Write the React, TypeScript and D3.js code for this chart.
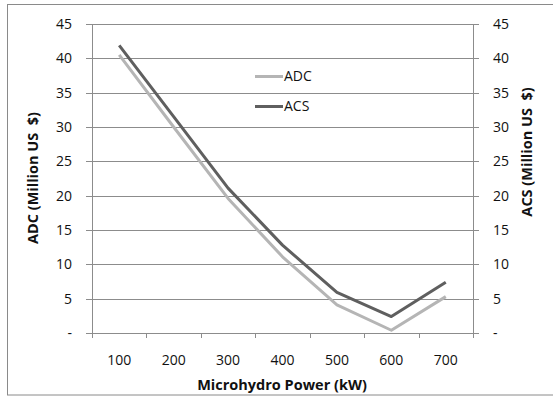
import React from "react";
import * as d3 from "d3";

const categories = ["100", "200", "300", "400", "500", "600", "700"];
const adcValues = [40.5, 30.0, 19.6, 11.1, 4.1, 0.4, 5.3];
const acsValues = [41.9, 31.5, 21.1, 12.8, 5.9, 2.4, 7.4];
const yTicks = [0, 5, 10, 15, 20, 25, 30, 35, 40, 45];

const W = 553;
const H = 396;
const left = 92;
const right = 473;
const top = 24;
const bottom = 333;
const font = "'Open Sans', 'Noto Sans', sans-serif";
const txt = "#111";

export default function App() {
  const x = d3.scaleBand<string>().domain(categories).range([left, right]).padding(0);
  const y = d3.scaleLinear().domain([0, 45]).range([bottom, top]);
  const line = d3
    .line<number>()
    .x((_, i) => (x(categories[i]) as number) + x.bandwidth() / 2)
    .y((d) => y(d));
  const xTickPos = categories.map((c) => x(c) as number).concat([right]);

  return (
    <svg width={W} height={H} style={{ position: "absolute", left: 0, top: 0 }}>
      <rect x={0} y={0} width={W} height={H} fill="#fff" />
      <rect x={7.5} y={4.5} width={W} height={390.5} fill="none" stroke="#8a8a8a" strokeWidth={1} />
      {yTicks.slice(1).map((t) => (
        <line key={"g" + t} x1={left} x2={right} y1={Math.round(y(t)) + 0.5} y2={Math.round(y(t)) + 0.5} stroke="#8c8c8c" strokeWidth={1} />
      ))}
      <line x1={left + 0.5} x2={left + 0.5} y1={top} y2={bottom + 5} stroke="#8c8c8c" />
      <line x1={right + 0.5} x2={right + 0.5} y1={top} y2={bottom + 5} stroke="#8c8c8c" />
      <line x1={left} x2={right} y1={bottom + 0.5} y2={bottom + 0.5} stroke="#8c8c8c" />
      {yTicks.map((t) => (
        <g key={"t" + t}>
          <line x1={left - 6} x2={left} y1={Math.round(y(t)) + 0.5} y2={Math.round(y(t)) + 0.5} stroke="#8c8c8c" />
          <line x1={right} x2={right + 6} y1={Math.round(y(t)) + 0.5} y2={Math.round(y(t)) + 0.5} stroke="#8c8c8c" />
          <text x={72} y={y(t)} dy="0.35em" textAnchor="end" fontFamily={font} fontSize={14} fill={txt}>
            {t === 0 ? "-" : t}
          </text>
          <text x={493} y={y(t)} dy="0.35em" textAnchor="start" fontFamily={font} fontSize={14} fill={txt}>
            {t === 0 ? "-" : t}
          </text>
        </g>
      ))}
      {xTickPos.map((p, i) => (
        <line key={"xt" + i} x1={Math.round(p) + 0.5} x2={Math.round(p) + 0.5} y1={bottom} y2={bottom + 5} stroke="#8c8c8c" />
      ))}
      {categories.map((c) => (
        <text key={"xl" + c} x={(x(c) as number) + x.bandwidth() / 2} y={365} textAnchor="middle" fontFamily={font} fontSize={14} fill={txt}>
          {c}
        </text>
      ))}
      <text x={282} y={390} textAnchor="middle" fontFamily={font} fontSize={14.5} fontWeight="bold" fill={txt}>
        Microhydro Power (kW)
      </text>
      <text transform="translate(38,178) rotate(-90)" textAnchor="middle" fontFamily={font} fontSize={14.5} fontWeight="bold" fill={txt} style={{ whiteSpace: "pre" }}>
        {"ADC (Million US  $)"}
      </text>
      <text transform="translate(532,152) rotate(-90)" textAnchor="middle" fontFamily={font} fontSize={14.5} fontWeight="bold" fill={txt} style={{ whiteSpace: "pre" }}>
        {"ACS (Million US  $)"}
      </text>
      <path d={line(adcValues) as string} fill="none" stroke="#b5b5b5" strokeWidth={3} strokeLinejoin="round" />
      <path d={line(acsValues) as string} fill="none" stroke="#5f5f5f" strokeWidth={3} strokeLinejoin="round" />
      <line x1={255} x2={283} y1={76.5} y2={76.5} stroke="#b5b5b5" strokeWidth={3} />
      <text x={284} y={76.5} dy="0.35em" fontFamily={font} fontSize={14} fill={txt}>ADC</text>
      <line x1={255} x2={283} y1={106.5} y2={106.5} stroke="#5f5f5f" strokeWidth={3} />
      <text x={284} y={106.5} dy="0.35em" fontFamily={font} fontSize={14} fill={txt}>ACS</text>
    </svg>
  );
}
